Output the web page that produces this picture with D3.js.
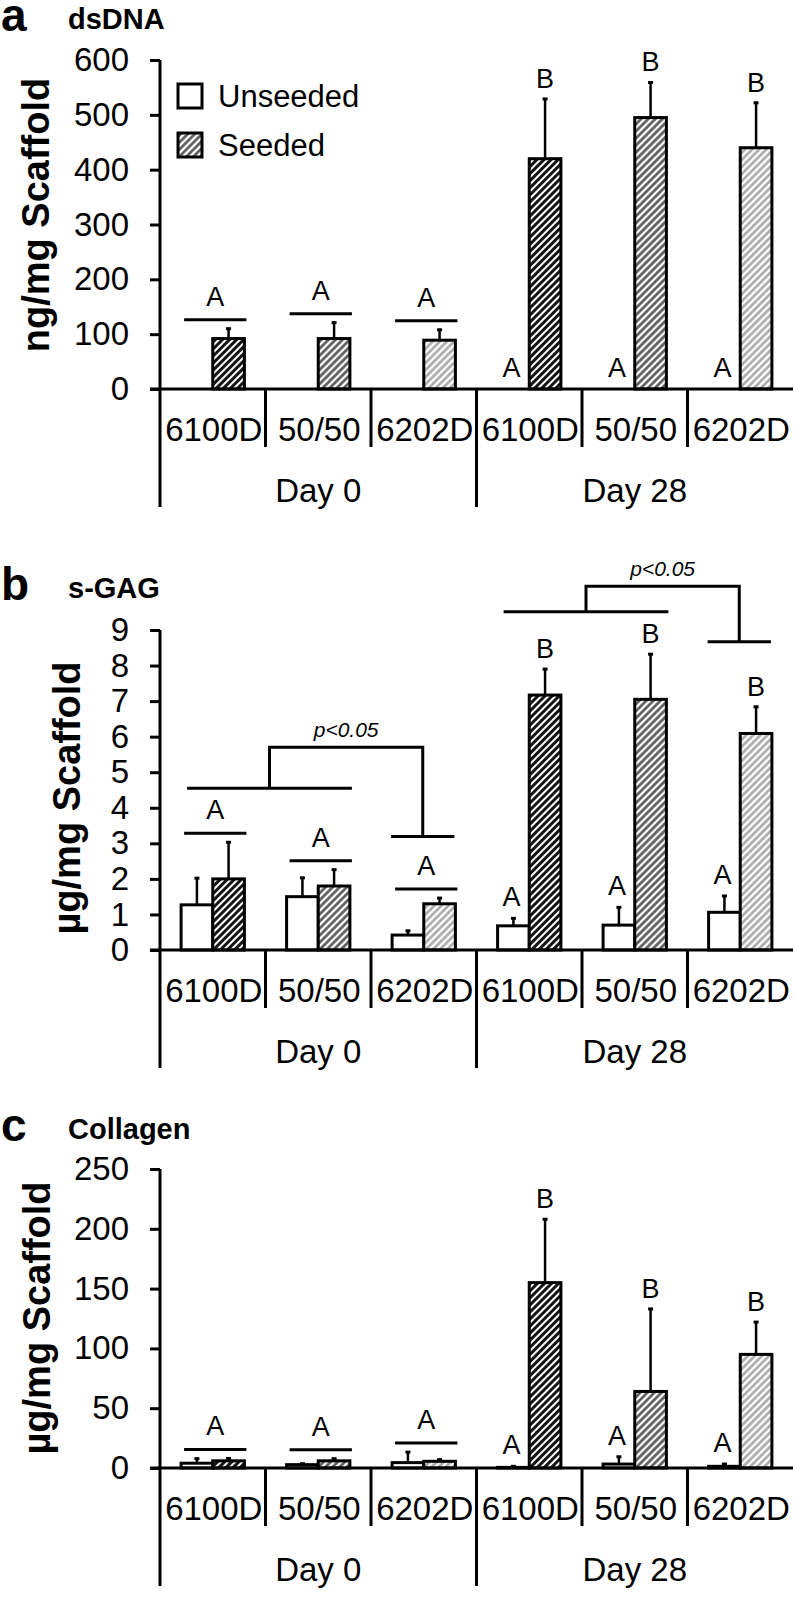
<!DOCTYPE html>
<html>
<head>
<meta charset="utf-8">
<script src="https://cdn.jsdelivr.net/npm/d3@7"></script>
<style>
  body { margin: 0; background: #fff; }
  svg { display: block; }
  text { font-family: "Liberation Sans", Arial, sans-serif; fill: #000; }
</style>
</head>
<body>
<svg id="chart" width="795" height="1615"></svg>
<script>
// ---------- DATA ----------
const categories = ["6100D", "50/50", "6202D", "6100D", "50/50", "6202D"];
const categoryKeys = ["d0-6100D", "d0-5050", "d0-6202D", "d28-6100D", "d28-5050", "d28-6202D"];
const materials = ["6100D", "50/50", "6202D", "6100D", "50/50", "6202D"];
const dayLabels = ["Day 0", "Day 28"];
const dayStart = [0, 3];
const dayEnd = [2, 5];
const series = ["Unseeded", "Seeded"];

// Panel a: dsDNA (ng/mg Scaffold)
const dnaTicks = [0, 100, 200, 300, 400, 500, 600];
const dnaUnseeded = [0, 0, 0, 0, 0, 0];
const dnaUnseededSD = [0, 0, 0, 0, 0, 0];
const dnaSeeded = [92, 92, 89, 420, 495, 440];
const dnaSeededSD = [18, 29, 19, 109, 64, 82];

// Panel b: s-GAG (µg/mg Scaffold)
const gagTicks = [0, 1, 2, 3, 4, 5, 6, 7, 8, 9];
const gagUnseeded = [1.27, 1.5, 0.42, 0.68, 0.70, 1.06];
const gagUnseededSD = [0.75, 0.53, 0.12, 0.21, 0.50, 0.46];
const gagSeeded = [2.0, 1.8, 1.3, 7.17, 7.05, 6.09];
const gagSeededSD = [1.03, 0.46, 0.16, 0.73, 1.27, 0.75];
// p<0.05 brackets: left group pair indices, right index, heights in data units
const gagBrackets = [
  { left: [0, 1], right: 2, yLeft: 4.55, yRight: 3.19, yTop: 5.7, label: "p<0.05" },
  { left: [3, 4], right: 5, yLeft: 9.51, yRight: 8.67, yTop: 10.23, label: "p<0.05" }
];

// Panel c: Collagen (µg/mg Scaffold)
const colTicks = [0, 50, 100, 150, 200, 250];
const colUnseeded = [4, 2.8, 4.5, 0.5, 3.3, 1.4];
const colUnseededSD = [3.8, 0.8, 8.8, 0.9, 6.1, 1.9];
const colSeeded = [6, 6, 5.6, 155, 64, 95];
const colSeededSD = [2, 1.8, 1.4, 53, 69, 27];

// Significance letters
const pairLetters = ["A", "A", "A", null, null, null];
const unseededLetters = [null, null, null, "A", "A", "A"];
const seededLetters = [null, null, null, "B", "B", "B"];

// ---------- DRAWING ----------
const svg = d3.select("#chart");
const defs = svg.append("defs");

function hatch(id, color, w) {
  const s = 5;
  const p = defs.append("pattern").attr("id", id)
    .attr("patternUnits", "userSpaceOnUse")
    .attr("width", s).attr("height", s)
    .attr("patternTransform", "rotate(45)");
  p.append("rect").attr("width", s).attr("height", s).attr("fill", "#fff");
  p.append("line").attr("x1", s / 2).attr("y1", -1).attr("x2", s / 2).attr("y2", s + 1)
    .attr("stroke", color).attr("stroke-width", w);
}
hatch("h-6100D", "#151515", 3);
hatch("h-5050", "#555", 2.6);
hatch("h-6202D", "#a8a8a8", 2.6);
const hatchFor = { "6100D": "url(#h-6100D)", "50/50": "url(#h-5050)", "6202D": "url(#h-6202D)" };

const axisX = 160, rightX = 793;
const x = d3.scaleBand().domain(categoryKeys).range([axisX, rightX]).paddingInner(0).paddingOuter(0);
const bw = x.bandwidth();
const xs = d3.scaleBand().domain(series).range([0.2 * bw, 0.8 * bw]);

const panels = [
  { letter: "a", title: "dsDNA", yLabel: "ng/mg Scaffold", ticks: dnaTicks, top: 60, zero: 389,
    u: dnaUnseeded, uSD: dnaUnseededSD, s: dnaSeeded, sSD: dnaSeededSD, brackets: [], legend: true,
    titleY: 31, labelX: 49, labelY: 215 },
  { letter: "b", title: "s-GAG", yLabel: "µg/mg Scaffold", ticks: gagTicks, top: 630, zero: 950,
    u: gagUnseeded, uSD: gagUnseededSD, s: gagSeeded, sSD: gagSeededSD, brackets: gagBrackets, legend: false,
    titleY: 600, labelX: 80, labelY: 798 },
  { letter: "c", title: "Collagen", yLabel: "µg/mg Scaffold", ticks: colTicks, top: 1169, zero: 1468,
    u: colUnseeded, uSD: colUnseededSD, s: colSeeded, sSD: colSeededSD, brackets: [], legend: false,
    titleY: 1141, labelX: 50, labelY: 1318 }
];

panels.forEach(P => {
  const g = svg.append("g");
  const maxT = P.ticks[P.ticks.length - 1];
  const y = d3.scaleLinear().domain([0, maxT]).range([P.zero, P.top]);

  // titles
  g.append("text").attr("x", 1).attr("y", P.titleY).attr("font-size", 46).attr("font-weight", "bold").text(P.letter);
  g.append("text").attr("x", 68).attr("y", P.titleY - 2).attr("font-size", 29).attr("font-weight", "bold").text(P.title);

  // y label
  g.append("text").attr("transform", `translate(${P.labelX},${P.labelY}) rotate(-90)`)
    .attr("text-anchor", "middle").attr("font-size", 38).attr("font-weight", "bold").text(P.yLabel);

  // y axis ticks and labels
  const ax = g.append("g").attr("transform", `translate(${axisX},0)`)
    .call(d3.axisLeft(y).tickValues(P.ticks).tickSize(10).tickSizeOuter(0).tickPadding(21).tickFormat(d3.format("d")));
  ax.select(".domain").remove();
  ax.selectAll(".tick line").attr("stroke", "#000").attr("stroke-width", 3);
  ax.selectAll(".tick text").attr("font-size", 33).attr("font-family", '"Liberation Sans", Arial, sans-serif').attr("fill", "#000");

  // bars
  const data = categoryKeys.map((k, i) => ({ k, i, u: P.u[i], uSD: P.uSD[i], s: P.s[i], sSD: P.sSD[i], mat: materials[i] }));
  data.forEach(d => {
    const x0 = x(d.k);
    [["Unseeded", d.u, d.uSD, "#fff"], ["Seeded", d.s, d.sSD, hatchFor[d.mat]]].forEach(([ser, v, sd, fill]) => {
      const bx = x0 + xs(ser), w = xs.bandwidth();
      if (sd > 0) {
        g.append("line").attr("x1", bx + w / 2).attr("x2", bx + w / 2)
          .attr("y1", y(v)).attr("y2", y(v + sd)).attr("stroke", "#000").attr("stroke-width", 2.5);
        g.append("line").attr("x1", bx + w / 2 - 2.5).attr("x2", bx + w / 2 + 2.5)
          .attr("y1", y(v + sd)).attr("y2", y(v + sd)).attr("stroke", "#000").attr("stroke-width", 3);
      }
      if (v > 0) {
        g.append("rect").attr("x", bx).attr("width", w)
          .attr("y", y(v)).attr("height", y(0) - y(v))
          .attr("fill", fill).attr("stroke", "#000").attr("stroke-width", 3);
      }
    });

    // letters
    const uTop = y(d.u + d.uSD), sTop = y(d.s + d.sSD);
    if (pairLetters[d.i]) {
      const ly = Math.min(uTop, sTop) - 9;
      const lx0 = x0 + xs("Unseeded") + 3, lx1 = x0 + xs("Seeded") + xs.bandwidth() + 2;
      g.append("line").attr("x1", lx0).attr("x2", lx1).attr("y1", ly).attr("y2", ly)
        .attr("stroke", "#000").attr("stroke-width", 3);
      g.append("text").attr("x", (lx0 + lx1) / 2).attr("y", ly - 14).attr("text-anchor", "middle")
        .attr("font-size", 27).text(pairLetters[d.i]);
    }
    if (unseededLetters[d.i]) {
      g.append("text").attr("x", x0 + xs("Unseeded") + xs.bandwidth() / 2 - 2).attr("y", uTop - 12)
        .attr("text-anchor", "middle").attr("font-size", 27).text(unseededLetters[d.i]);
    }
    if (seededLetters[d.i]) {
      g.append("text").attr("x", x0 + xs("Seeded") + xs.bandwidth() / 2).attr("y", sTop - 11)
        .attr("text-anchor", "middle").attr("font-size", 27).text(seededLetters[d.i]);
    }
  });

  // brackets
  P.brackets.forEach(b => {
    const lx0 = x(categoryKeys[b.left[0]]) + xs("Unseeded") + 6;
    const lx1 = x(categoryKeys[b.left[1]]) + xs("Seeded") + xs.bandwidth() + 2;
    const rc = x(categoryKeys[b.right]);
    const rx0 = rc + xs("Unseeded") - 1, rx1 = rc + xs("Seeded") + xs.bandwidth() - 1;
    const lm = (lx0 + lx1) / 2, rm = (rx0 + rx1) / 2;
    const line = (x1, y1, x2, y2) => g.append("line").attr("x1", x1).attr("y1", y1).attr("x2", x2).attr("y2", y2)
      .attr("stroke", "#000").attr("stroke-width", 3);
    line(lx0, y(b.yLeft), lx1, y(b.yLeft));
    line(rx0, y(b.yRight), rx1, y(b.yRight));
    g.append("path").attr("d", `M${lm},${y(b.yLeft)}V${y(b.yTop)}H${rm}V${y(b.yRight)}`)
      .attr("stroke", "#000").attr("stroke-width", 3).attr("fill", "none");
    g.append("text").attr("x", (lm + rm) / 2).attr("y", y(b.yTop) - 10).attr("text-anchor", "middle")
      .attr("font-size", 21).attr("font-style", "italic").text(b.label);
  });

  // axes lines
  const longLen = 118, shortLen = 58;
  g.append("line").attr("x1", axisX).attr("x2", axisX).attr("y1", P.top).attr("y2", P.zero + longLen)
    .attr("stroke", "#000").attr("stroke-width", 3);
  g.append("line").attr("x1", axisX - 10).attr("x2", rightX).attr("y1", P.zero).attr("y2", P.zero)
    .attr("stroke", "#000").attr("stroke-width", 3);
  categoryKeys.forEach((k, i) => {
    if (i === 0) return;
    const isDay = dayStart.includes(i);
    g.append("line").attr("x1", x(k)).attr("x2", x(k)).attr("y1", P.zero).attr("y2", P.zero + (isDay ? longLen : shortLen))
      .attr("stroke", "#000").attr("stroke-width", 3);
  });
  // category labels
  categoryKeys.forEach((k, i) => {
    g.append("text").attr("x", x(k) + bw / 2 + 1).attr("y", P.zero + 52).attr("text-anchor", "middle")
      .attr("font-size", 33).text(categories[i]);
  });
  // day labels
  dayLabels.forEach((lab, j) => {
    const cx = (x(categoryKeys[dayStart[j]]) + x(categoryKeys[dayEnd[j]]) + bw) / 2;
    g.append("text").attr("x", cx).attr("y", P.zero + 113).attr("text-anchor", "middle")
      .attr("font-size", 33).text(lab);
  });

  // legend
  if (P.legend) {
    const lg = g.append("g");
    series.forEach((ser, j) => {
      const yy = 84 + j * 49;
      lg.append("rect").attr("x", 178).attr("y", yy).attr("width", 24).attr("height", 24)
        .attr("fill", ser === "Unseeded" ? "#fff" : "url(#h-5050)").attr("stroke", "#000").attr("stroke-width", 3);
      lg.append("text").attr("x", 218).attr("y", yy + 23).attr("font-size", 31).text(ser);
    });
  }
});
</script>
</body>
</html>
